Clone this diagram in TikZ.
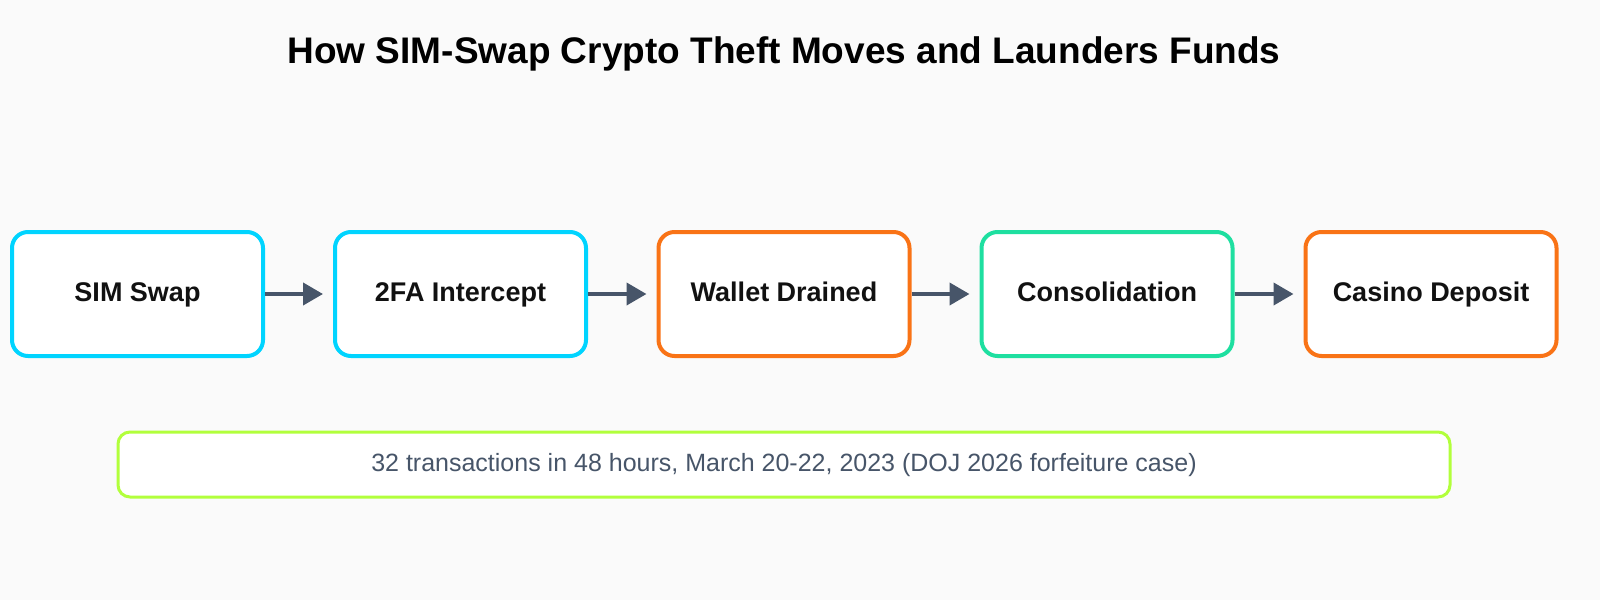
\documentclass[tikz,border=0pt]{standalone}
\usepackage{fontspec}
\setmainfont{Liberation Sans}
\usetikzlibrary{arrows.meta,positioning}
\definecolor{bgcol}{HTML}{FAFAFA}
\definecolor{swapcyan}{HTML}{00D4FF}
\definecolor{drainorange}{HTML}{F97316}
\definecolor{mixgreen}{HTML}{1EDFA0}
\definecolor{notelime}{HTML}{B2FF3C}
\definecolor{slate}{HTML}{475569}
\definecolor{ink}{HTML}{111111}
\tikzstyle{stage} = [rectangle, rounded corners=8pt, line width=2pt, fill=white, minimum width=125.5pt, minimum height=62pt, text centered, text height=0.92em, text depth=0.2em, text=ink, font=\fontsize{13.5}{16}\selectfont\bfseries]
\tikzstyle{arrow} = [line width=2pt, draw=slate, -{Triangle[length=10pt,width=11pt]}]
\tikzstyle{note} = [rectangle, rounded corners=6pt, line width=1.5pt, draw=notelime, fill=white, minimum width=666pt, minimum height=32.5pt, text height=0.92em, text depth=0.2em, text=slate, font=\fontsize{12.5}{15}\selectfont]
\begin{document}
\begin{tikzpicture}[x=0.5pt,y=-0.5pt]
      \fill[bgcol] (0,0) rectangle (1600,600);
      \useasboundingbox (0,0) rectangle (1600,600);
      % title
      \node (title) at (784,54) {\fontsize{18.5}{22}\selectfont\bfseries How SIM-Swap Crypto Theft Moves and Launders Funds};
      % stages
      \node (s1) at (137.5,294) [stage, draw=swapcyan] {SIM Swap};
      \node (s2) at (460.5,294) [stage, draw=swapcyan] {2FA Intercept};
      \node (s3) at (784,294) [stage, draw=drainorange] {Wallet Drained};
      \node (s4) at (1107,294) [stage, draw=mixgreen] {Consolidation};
      \node (s5) at (1431,294) [stage, draw=drainorange] {Casino Deposit};
      \draw[arrow] (s1.east) -- ([xshift=-5pt]s2.west);
      \draw[arrow] (s2.east) -- ([xshift=-5pt]s3.west);
      \draw[arrow] (s3.east) -- ([xshift=-5pt]s4.west);
      \draw[arrow] (s4.east) -- ([xshift=-5pt]s5.west);
      % footnote box
      \node (n1) at (784,464.5) [note] {32 transactions in 48 hours, March 20-22, 2023 (DOJ 2026 forfeiture case)};
\end{tikzpicture}
\end{document}
